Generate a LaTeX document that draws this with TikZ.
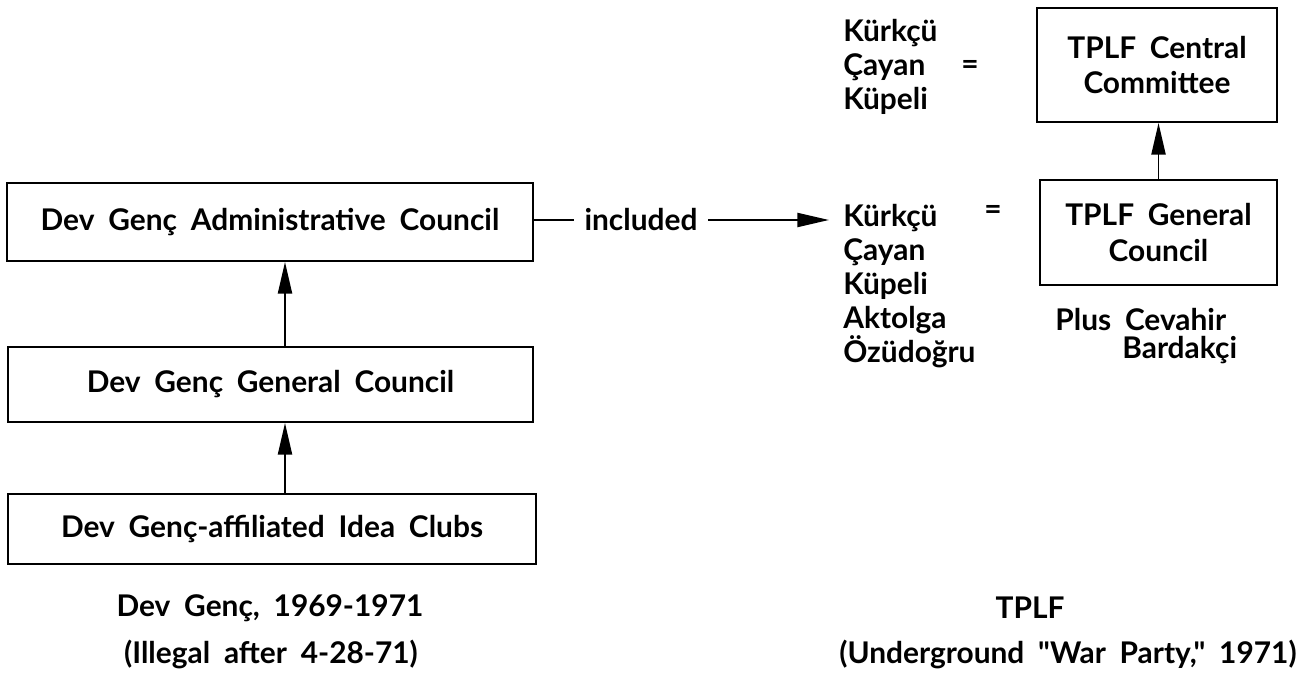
\documentclass[tikz,border=0pt]{standalone}
\usepackage{fontspec}
\setmainfont{Lato}[WordSpace=1.9]
\newfontfamily\qfont{Lato}[WordSpace=1.9]
\usetikzlibrary{arrows.meta}
\begin{document}
\begin{tikzpicture}[x=0.02cm,y=-0.02cm,
  box/.style={draw,line width=1.1pt,inner sep=0pt,align=center,font=\fontsize{17}{20}\selectfont\bfseries},
  txt/.style={inner sep=0pt,font=\fontsize{17}{19.4}\selectfont\bfseries},
  arr/.style={line width=1.1pt,-{Triangle[length=18pt,width=8pt]}},
  ln/.style={line width=1.1pt}]
\useasboundingbox (0,0) rectangle (1297,685);
% left column
\node[box,minimum width=10.52cm,minimum height=1.56cm] (adm) at (270,222) {Dev Genç Administrative Council};
\node[box,minimum width=10.5cm,minimum height=1.5cm] (gen) at (270.5,384.5) {Dev Genç General Council};
\node[box,minimum width=10.56cm,minimum height=1.4cm] (idea) at (272,529) {Dev Genç-affiliated Idea Clubs};
\coordinate (ax) at (285,0);
\draw[arr] (gen.north -| ax) -- (adm.south -| ax);
\draw[arr] (idea.north -| ax) -- (gen.south -| ax);
% included
\node[txt,inner xsep=6pt] (inc) at (641,220) {included};
% right side
\node[txt,anchor=west,align=left] (names1) at (843,67) {Kürkçü\\Çayan\\Küpeli};
\node[txt] (eq1) at (970,67) {=};
\node[txt,anchor=west,align=left] (names2) at (843,286) {Kürkçü\\Çayan\\Küpeli\\Aktolga\\Özüdoğru};
\node[txt] (eq2) at (993,212) {=};
\node[box,minimum width=4.8cm,minimum height=2.28cm] (cc) at (1157,65) {TPLF Central\\Committee};
\node[box,minimum width=4.74cm,minimum height=2.1cm] (gc) at (1158.5,232.5) {TPLF General\\Council};
\draw[arr] (gc.north) -- (gc.north |- cc.south);
\node[txt,anchor=west] (plus) at (1055,320) {Plus Cevahir};
\node[txt,anchor=west] (bard) at (1122,350) {Bardakçi};
\draw[ln] (adm.east |- inc.west) -- (inc.west);
\draw[arr,shorten >=8pt] (inc.east) -- (inc.east -| names2.west);
% captions
\node[txt] (cap1) at (270,608) {Dev Genç, 1969-1971};
\node[txt] (cap2) at (271,654) {(Illegal after 4-28-71)};
\node[txt] (cap3) at (1030,608) {TPLF};
\node[txt] (cap4) at (1068,654) {\qfont\bfseries (Underground "War Party," 1971)};
\end{tikzpicture}
\end{document}
